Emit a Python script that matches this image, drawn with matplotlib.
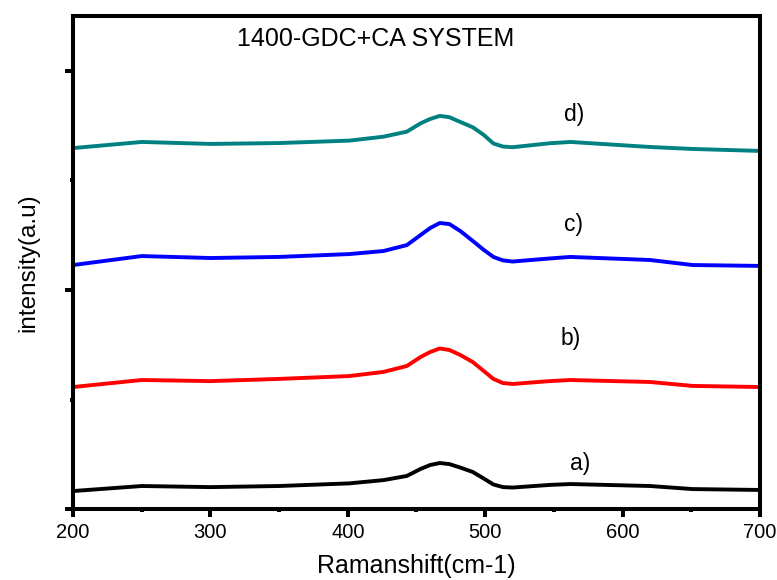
import matplotlib
matplotlib.use("Agg")
import matplotlib.pyplot as plt
from matplotlib.ticker import MultipleLocator, NullFormatter

plt.rcParams['font.family'] = ['Liberation Sans', 'DejaVu Sans']

# Raman shift grid (cm-1)
shift = [200, 250, 300, 350, 401, 426, 443, 453, 460, 467, 474, 482, 491, 499, 506, 513, 520,
         547, 562, 620, 651, 700]

# intensities (a.u., stacked with offsets as in the figure)
curve_a = [0.082, 0.105, 0.100, 0.105, 0.117, 0.132, 0.151, 0.183, 0.201, 0.210, 0.205, 0.189,
           0.169, 0.139, 0.112, 0.100, 0.098, 0.110, 0.114, 0.105, 0.091, 0.087]
curve_b = [0.557, 0.589, 0.584, 0.594, 0.607, 0.626, 0.653, 0.694, 0.717, 0.733, 0.726, 0.703,
           0.671, 0.630, 0.594, 0.575, 0.571, 0.584, 0.589, 0.580, 0.562, 0.557]
curve_c = [1.114, 1.155, 1.146, 1.151, 1.164, 1.178, 1.205, 1.251, 1.283, 1.306, 1.301, 1.269,
           1.224, 1.183, 1.151, 1.135, 1.130, 1.144, 1.151, 1.137, 1.114, 1.110]
curve_d = [1.648, 1.676, 1.667, 1.671, 1.682, 1.700, 1.723, 1.761, 1.781, 1.795, 1.789, 1.767,
           1.743, 1.708, 1.669, 1.655, 1.652, 1.670, 1.676, 1.653, 1.644, 1.635]

labels = ["a)", "b)", "c)", "d)"]
label_pos = [(569, 0.21), (562, 0.78), (564, 1.30), (565, 1.80)]
colors = ["#000000", "#ff0000", "#0000ff", "#008080"]

fig = plt.figure(figsize=(7.77, 5.80), dpi=100)
ax = fig.add_axes([0.094, 0.1224, 0.884, 0.8496])

for ys, c in zip([curve_a, curve_b, curve_c, curve_d], colors):
    ax.plot(shift, ys, color=c, lw=2.8, solid_capstyle='round', solid_joinstyle='round')

for lab, (lx, ly) in zip(labels, label_pos):
    ax.text(lx, ly, lab, fontsize=16.5, ha='center', va='center')

ax.text(420, 2.146, "1400-GDC+CA SYSTEM", fontsize=18, ha='center', va='center')

ax.set_xlim(200, 700)
ax.set_ylim(0, 2.25)
ax.xaxis.set_major_locator(MultipleLocator(100))
ax.xaxis.set_minor_locator(MultipleLocator(50))
ax.yaxis.set_major_locator(MultipleLocator(1))
ax.yaxis.set_minor_locator(MultipleLocator(0.5))
ax.yaxis.set_major_formatter(NullFormatter())

for s in ax.spines.values():
    s.set_linewidth(2.9)
ax.tick_params(which='major', direction='out', length=6, width=2.9, labelsize=14.5, pad=4)
ax.tick_params(which='minor', direction='out', length=2.5, width=2.9)
ax.tick_params(top=False, right=False)

ax.set_xlabel("Ramanshift(cm-1)", fontsize=18, labelpad=9)
ax.set_ylabel("intensity(a.u)", fontsize=17.5, labelpad=14)

fig.savefig("out.png", dpi=100)
